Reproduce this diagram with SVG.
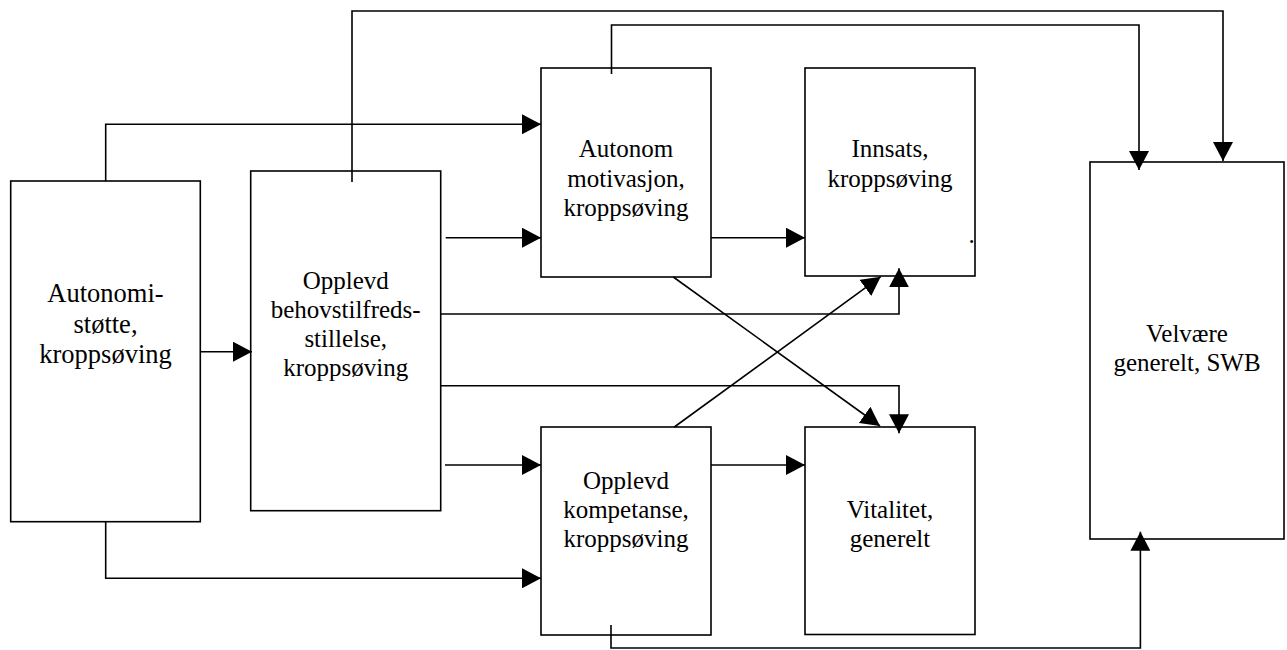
<svg xmlns="http://www.w3.org/2000/svg" width="1287" height="650" viewBox="0 0 1287 650">
<style>
.box{fill:#fff;stroke:#000;stroke-width:1.6}
.ln{fill:none;stroke:#000;stroke-width:1.6;marker-end:url(#ah)}
.pl{fill:none;stroke:#000;stroke-width:1.6}
text{font-family:"Liberation Serif","Times New Roman",serif;font-size:25px;fill:#000;text-anchor:middle}
.big{font-size:26.5px}
</style>
<defs>
<marker id="ah" markerUnits="userSpaceOnUse" markerWidth="20" markerHeight="20" refX="19" refY="10" orient="auto" viewBox="0 0 20 20">
<path d="M0,0 L19,10 L0,20 z" fill="#000"/>
</marker>
</defs>
<rect width="1287" height="650" fill="#fff"/>
<g id="n1"><rect class="box" x="10.7" y="181" width="189.6" height="340.7"/>
<text class="big" x="105.5" y="301.7">Autonomi-</text><text class="big" x="105.5" y="332.5">støtte,</text><text class="big" x="105.5" y="363">kroppsøving</text></g>
<g id="n2"><rect class="box" x="250.7" y="171" width="190" height="339.7"/>
<text x="345.7" y="289">Opplevd</text><text x="345.7" y="318">behovstilfreds-</text><text x="345.7" y="347">stillelse,</text><text x="345.7" y="376">kroppsøving</text></g>
<g id="n3"><rect class="box" x="541" y="68" width="170" height="209"/>
<text x="626" y="157.3">Autonom</text><text x="626" y="186.5">motivasjon,</text><text x="626" y="215.7">kroppsøving</text></g>
<g id="n4"><rect class="box" x="805" y="68" width="170" height="208"/>
<text x="890" y="157.3">Innsats,</text><text x="890" y="187.3">kroppsøving</text><text x="968.5" y="243" style="text-anchor:start">.</text></g>
<g id="n5"><rect class="box" x="541" y="427" width="170" height="208"/>
<text x="626" y="489">Opplevd</text><text x="626" y="518.3">kompetanse,</text><text x="626" y="547">kroppsøving</text></g>
<g id="n6"><rect class="box" x="805" y="427" width="170" height="207.5"/>
<text x="890" y="518.3">Vitalitet,</text><text x="890" y="547">generelt</text></g>
<g id="n7"><rect class="box" x="1090" y="162" width="194" height="377"/>
<text x="1187" y="341.5">Velvære</text><text x="1187" y="370.5">generelt, SWB</text></g>
<g id="connectors">
<polyline class="ln" points="352,182 352,11 1223,11 1223,161"/>
<polyline class="ln" points="611.5,74 611.5,25 1139,25 1139,170"/>
<polyline class="ln" points="105.7,181 105.7,124.3 541,124.3"/>
<line class="ln" x1="200.3" y1="351.7" x2="252" y2="351.7"/>
<line class="ln" x1="445.7" y1="237.7" x2="541" y2="237.7"/>
<line class="ln" x1="711" y1="237.7" x2="805" y2="237.7"/>
<polyline class="ln" points="441,314 899,314 899,268.3"/>
<polyline class="ln" points="441,385.7 899,385.7 899,433.3"/>
<line class="ln" x1="673.3" y1="277" x2="880" y2="426"/>
<line class="ln" x1="674.3" y1="427" x2="880.7" y2="276.7"/>
<line class="ln" x1="445" y1="465" x2="541" y2="465"/>
<polyline class="ln" points="105.7,521.7 105.7,578.3 541,578.3"/>
<line class="ln" x1="711" y1="465" x2="805" y2="465"/>
<polyline class="ln" points="611,625 611,648 1140.4,648 1140.4,531.7"/>
</g>
</svg>
